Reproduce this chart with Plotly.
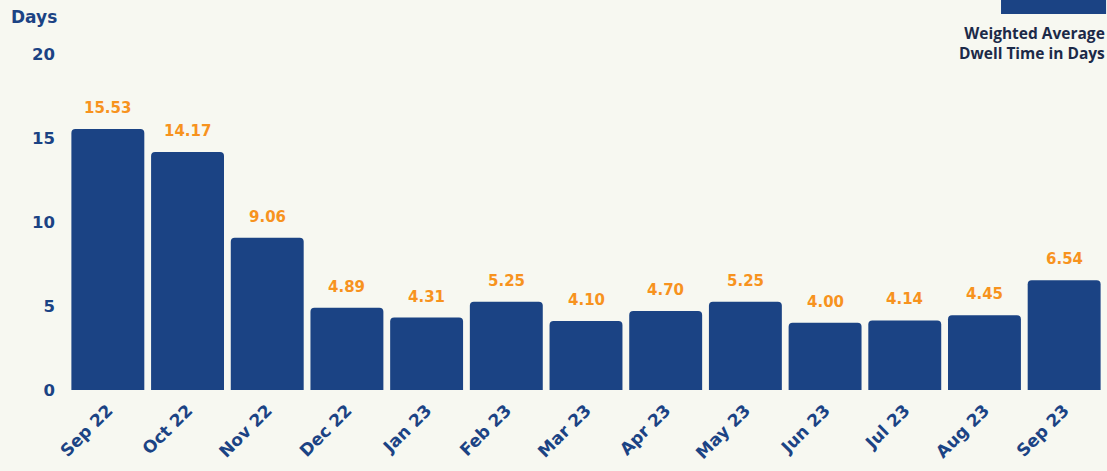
import plotly.graph_objects as go

months = ["Sep 22", "Oct 22", "Nov 22", "Dec 22", "Jan 23", "Feb 23", "Mar 23",
          "Apr 23", "May 23", "Jun 23", "Jul 23", "Aug 23", "Sep 23"]
dwell_days = [15.53, 14.17, 9.06, 4.89, 4.31, 5.25, 4.10, 4.70, 5.25, 4.00, 4.14, 4.45, 6.54]
y_ticks = [0, 5, 10, 15, 20]
series_name = "Weighted Average<br>Dwell Time in Days"

BG = "#F7F8F1"
BAR = "#1B4384"
ORANGE = "#F7931E"
TICK = "#1B4384"
FONT = "DejaVu Sans"

fig = go.Figure()
fig.add_trace(go.Bar(
    x=months, y=dwell_days, marker=dict(color=BAR, cornerradius=4, line=dict(width=0)),
    name=series_name, showlegend=False,
))

for m, v in zip(months, dwell_days):
    fig.add_annotation(x=m, y=v, text=f"{v:.2f}", showarrow=False, yshift=21,
                       font=dict(family=FONT, size=15, color=ORANGE, weight="bold"))

fig.add_annotation(xref="paper", yref="paper", x=-0.057, y=1.0, yshift=37, text="Days",
                   showarrow=False, xanchor="left", yanchor="middle",
                   font=dict(family=FONT, size=17, color=TICK, weight="bold"))

# legend-like swatch and label
fig.add_shape(type="rect", xref="paper", yref="paper", x0=0.9006, x1=1.002, y0=1.119, y1=1.165,
              fillcolor=BAR, line=dict(width=0))
fig.add_annotation(xref="paper", yref="paper", x=1.0, y=1.0, xshift=3, yshift=-12, text=series_name,
                   showarrow=False, xanchor="right", yanchor="bottom", align="right",
                   font=dict(family="Open Sans", size=15.5, color="#1C2A48", weight="bold"))

fig.update_layout(
    width=1107, height=471,
    paper_bgcolor=BG, plot_bgcolor=BG,
    margin=dict(l=68, r=3, t=54, b=81),
    bargap=0.085,
    xaxis=dict(tickangle=-45, showgrid=False, zeroline=False, showline=False,
               tickfont=dict(family=FONT, size=17, color=TICK, weight="bold"), ticks="",
               ticklabelstandoff=6),
    yaxis=dict(range=[0, 20], tickvals=y_ticks, showgrid=False, zeroline=False, showline=False,
               tickfont=dict(family=FONT, size=16.5, color=TICK, weight="bold"),
               ticklabelstandoff=12),
)

fig.write_html("out.html", config={"displayModeBar": False},
               post_script="document.body.style.margin='0';document.body.style.overflow='hidden';")
